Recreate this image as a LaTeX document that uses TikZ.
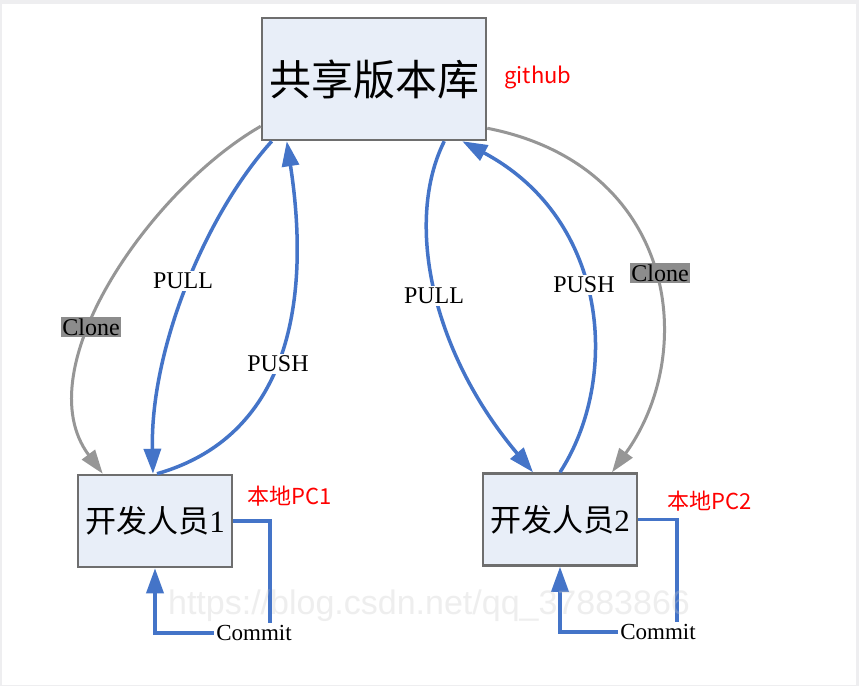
\documentclass[tikz,border=0pt]{standalone}
\usepackage{fontspec}
\setmainfont{Liberation Serif}
\newfontfamily\cjk{Noto Sans CJK SC}
\newfontfamily\wmfont{Liberation Sans}
\usetikzlibrary{arrows.meta}
\definecolor{boxfill}{RGB}{232,238,248}
\definecolor{boxline}{RGB}{110,110,110}
\definecolor{flowblue}{RGB}{68,116,200}
\definecolor{clonegray}{RGB}{150,150,150}
\definecolor{clonefill}{RGB}{140,140,140}
\definecolor{framegray}{RGB}{238,238,240}
\definecolor{wmgray}{RGB}{200,200,200}
\tikzset{
  repobox/.style={draw=boxline, fill=boxfill, line width=2.5pt, inner sep=0pt, minimum width=224pt, minimum height=122pt},
  devbox/.style={draw=boxline, fill=boxfill, line width=2.5pt, inner sep=0pt, minimum width=154pt, minimum height=92pt},
  blueline/.style={draw=flowblue, line width=3.5pt, -{Triangle[length=25pt,width=17pt]}},
  grayline/.style={draw=clonegray, line width=3pt, -{Triangle[length=24pt,width=16pt]}},
  flowlabel/.style={fill=white, inner sep=2pt, font=\fontsize{24}{24}\selectfont},
  clonelabel/.style={fill=clonefill, text=black, inner sep=1.5pt, font=\fontsize{24}{24}\selectfont},
  redlabel/.style={text=red, inner sep=0pt, font=\cjk\fontsize{22}{22}\selectfont},
}
\begin{document}
\begin{tikzpicture}[x=1pt,y=-1pt]
\fill[framegray] (0,0) rectangle (859,686);
\fill[white] (2,4) rectangle (856,685);
\useasboundingbox (0,0) rectangle (859,686);

\node[repobox] (top) at (374,79) {\cjk\fontsize{42}{42}\selectfont 共享版本库};
\node[devbox] (b1) at (155,521) {\fontsize{31}{31}\selectfont{\cjk 开发人员}1};
\node[devbox] (b2) at (560,519.5) {\fontsize{31}{31}\selectfont{\cjk 开发人员}2};

\node[redlabel] (gh) at (538,77) {github};
\node[redlabel] (pc1) at (290,496) {本地PC1};
\node[redlabel] (pc2) at (710,501) {本地PC2};

% Clone curves
\draw[grayline] ([yshift=15pt]top.south west) .. controls (150,190) and (25,370) .. ([xshift=26pt]b1.north west);
\draw[grayline] ([yshift=13pt]top.south east) .. controls (675,165) and (700,350) .. ([xshift=52pt]b2.north);

% left pull / push
\draw[blueline] ([xshift=11pt]top.south west) .. controls (205,215) and (150,350) .. ([xshift=-2pt]b1.north);
\draw[blueline] ([xshift=2pt]b1.north) .. controls (310,430) and (305,260) .. ([xshift=26pt]top.south west);

% right pull / push
\draw[blueline] ([xshift=-43pt]top.south east) .. controls (405,220) and (430,350) .. ([xshift=-27pt]b2.north);
\draw[blueline] (b2.north) .. controls (620,380) and (610,220) .. ([xshift=-25pt]top.south east);

% commit loops
\coordinate (k1) at (270,633);
\coordinate (k2) at (677,632);
\draw[blueline] (b1.east) -| (k1) -| (b1.south);
\draw[blueline] (b2.east) -| (k2) -| (b2.south);

% labels
\node[clonelabel] (cl1) at (91,327) {Clone};
\node[clonelabel] (cl2) at (660,273) {Clone};
\node[flowlabel] (pl1) at (183,281) {PULL};
\node[flowlabel] (ps1) at (278,364) {PUSH};
\node[flowlabel] (pl2) at (434,296) {PULL};
\node[flowlabel] (ps2) at (584,285) {PUSH};
\node[flowlabel, font=\fontsize{23}{23}\selectfont] (cm1) at (254,633) {Commit};
\node[flowlabel, font=\fontsize{23}{23}\selectfont] (cm2) at (658,632) {Commit};

% watermark
\node[text=wmgray, opacity=0.3, inner sep=0pt, font=\wmfont\fontsize{34}{34}\selectfont] (wm) at (429,606) {https://blog.csdn.net/qq\_37883866};
\end{tikzpicture}
\end{document}
